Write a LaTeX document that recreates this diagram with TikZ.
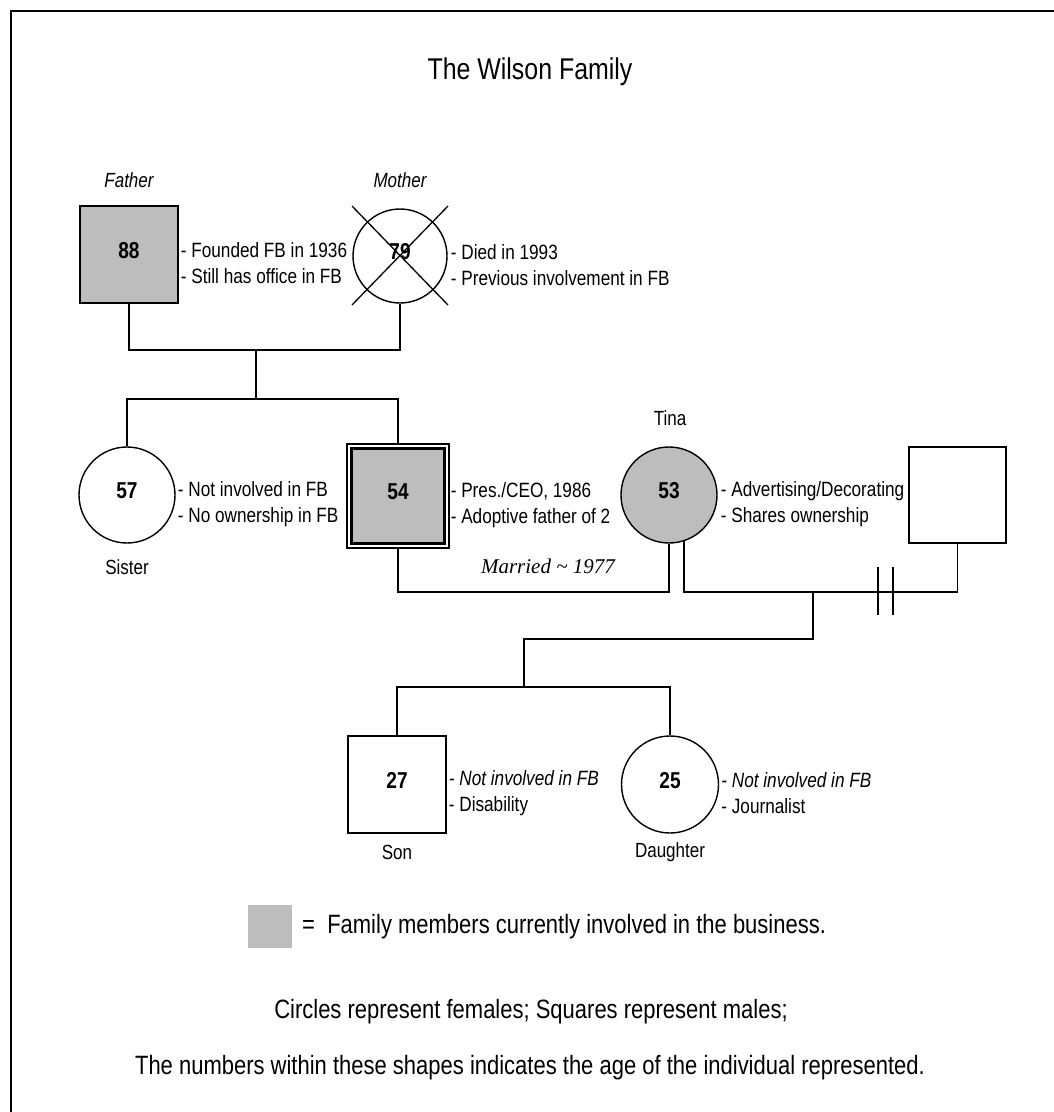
\documentclass[tikz,border=0pt]{standalone}
\usepackage{fontspec}
\setmainfont{Liberation Sans}[FakeStretch=0.83]
\newfontfamily\serifit{Liberation Serif}
\usetikzlibrary{calc}
\definecolor{stipple}{gray}{0.74}
\newcommand\fsz[2]{\fontsize{#1}{#2}\selectfont}

\begin{document}
\begin{tikzpicture}[x=1pt,y=-1pt,
  conn/.style={line width=1.6pt},
  person/.style={draw, line width=1.4pt, inner sep=0pt, text depth=9pt,
                 font=\fsz{23}{23}\bfseries},
  male/.style={person, rectangle, minimum width=98pt, minimum height=97pt},
  female/.style={person, circle, minimum size=96pt},
  active/.style={fill=stipple},
  desc/.style={anchor=west, align=left, inner sep=0pt, font=\fsz{20.7}{26}},
  tag/.style={inner sep=0pt, font=\fsz{20.5}{20.5}},
  note/.style={inner sep=0pt, font=\fsz{26.5}{26.5}},
]
\useasboundingbox (0,0) rectangle (1054,1112);

% page frame (top and left edges)
\draw[line width=2pt] (11,1112) -- (11,11) -- (1054,11);

\node[font=\fsz{30}{30}] (title) at (530,72) {The Wilson Family};

% first generation
\node[male, active] (F) at (129,254.5) {88};
\node[female, fill=white, minimum size=94pt] (M) at (400,256) {79};
\draw[line width=1.3pt] ($(M.center)+(-48,-50)$) -- ($(M.center)+(48,49)$)
                        ($(M.center)+(48,-50)$) -- ($(M.center)+(-48,49)$);
\node[tag, font=\fsz{20.5}{20.5}\itshape] (Flab) at (129,180) {Father};
\node[tag, font=\fsz{20.5}{20.5}\itshape] (Mlab) at (400,180) {Mother};
\node[desc] (Fd) at ($(F.east)+(2,9)$) {- Founded FB in 1936\\- Still has office in FB};
\node[desc] (Md) at ($(M.east)+(3,9)$) {- Died in 1993\\- Previous involvement in FB};

% second generation
\node[female] (S) at (127,495) {57};
\node[male, minimum width=102pt, minimum height=104pt, line width=1.2pt,
      path picture={\draw[line width=2.4pt, fill=stipple]
        ($(path picture bounding box.north west)+(4.5,4.5)$) rectangle
        ($(path picture bounding box.south east)+(-4.5,-4.5)$);}] (B) at (398,496) {54};
\node[female, active] (T) at (669,495) {53};
\node[male, minimum width=97pt, minimum height=96pt] (X) at (957.5,495) {};
\node[tag] (Slab) at (127,567) {Sister};
\node[tag] (Tlab) at (670,418) {Tina};
\node[desc] (Sd) at ($(S.east)+(2,9)$) {- Not involved in FB\\- No ownership in FB};
\node[desc] (Bd) at ($(B.east)+(1,9)$) {- Pres./CEO, 1986\\- Adoptive father of 2};
\node[desc] (Td) at ($(T.east)+(3,9)$) {- Advertising/Decorating\\- Shares ownership};
\node[font=\serifit\itshape\fsz{21}{21}] (wedlab) at (548,566) {Married \textasciitilde{} 1977};

% third generation
\node[male] (So) at (397,784.5) {27};
\node[female, minimum size=97pt] (D) at (670,784.5) {25};
\node[tag] (Solab) at (397,852) {Son};
\node[tag] (Dlab) at (670,852) {Daughter};
\node[desc] (Sod) at ($(So.east)+(2,9)$) {\textit{- Not involved in FB}\\- Disability};
\node[desc] (Dd) at ($(D.east)+(2,9)$) {\textit{- Not involved in FB}\\- Journalist};

% lines of descent and marriage
\coordinate (fm) at (256,350);
\coordinate (sib) at (256,399);
\draw[conn] (F.south) |- (fm) -| (M.south);
\draw[conn] (fm) -- (sib);
\draw[conn] (S.north) |- (sib) -| (B.north);
\coordinate (wed) at (533,592);
\draw[conn] (B.south) |- (wed) -| (T.south);
\coordinate (split) at (813,592);
\draw[conn] (T.-72) |- (split) -| (X.south);
\coordinate (t1) at (878,567);
\coordinate (t2) at (893,567);
\draw[conn] (t1) -- ++(0,48) (t2) -- ++(0,48);
\coordinate (drop) at (524,639);
\coordinate (kids) at (524,687);
\draw[conn] (split) |- (drop) -- (kids);
\draw[conn] (So.north) |- (kids) -| (D.north);

% key
\node[fill=stipple, minimum width=44pt, minimum height=43pt, inner sep=0pt] (key) at (270,926.5) {};
\node[anchor=west, inner sep=0pt, font=\fsz{26.5}{26.5}] (keytext) at (302,927)
  {=\ \ Family members currently involved in the business.};
\node[note] (note1) at (531,1012) {Circles represent females; Squares represent males;};
\node[note] (note2) at (530,1068) {The numbers within these shapes indicates the age of the individual represented.};
\end{tikzpicture}
\end{document}
